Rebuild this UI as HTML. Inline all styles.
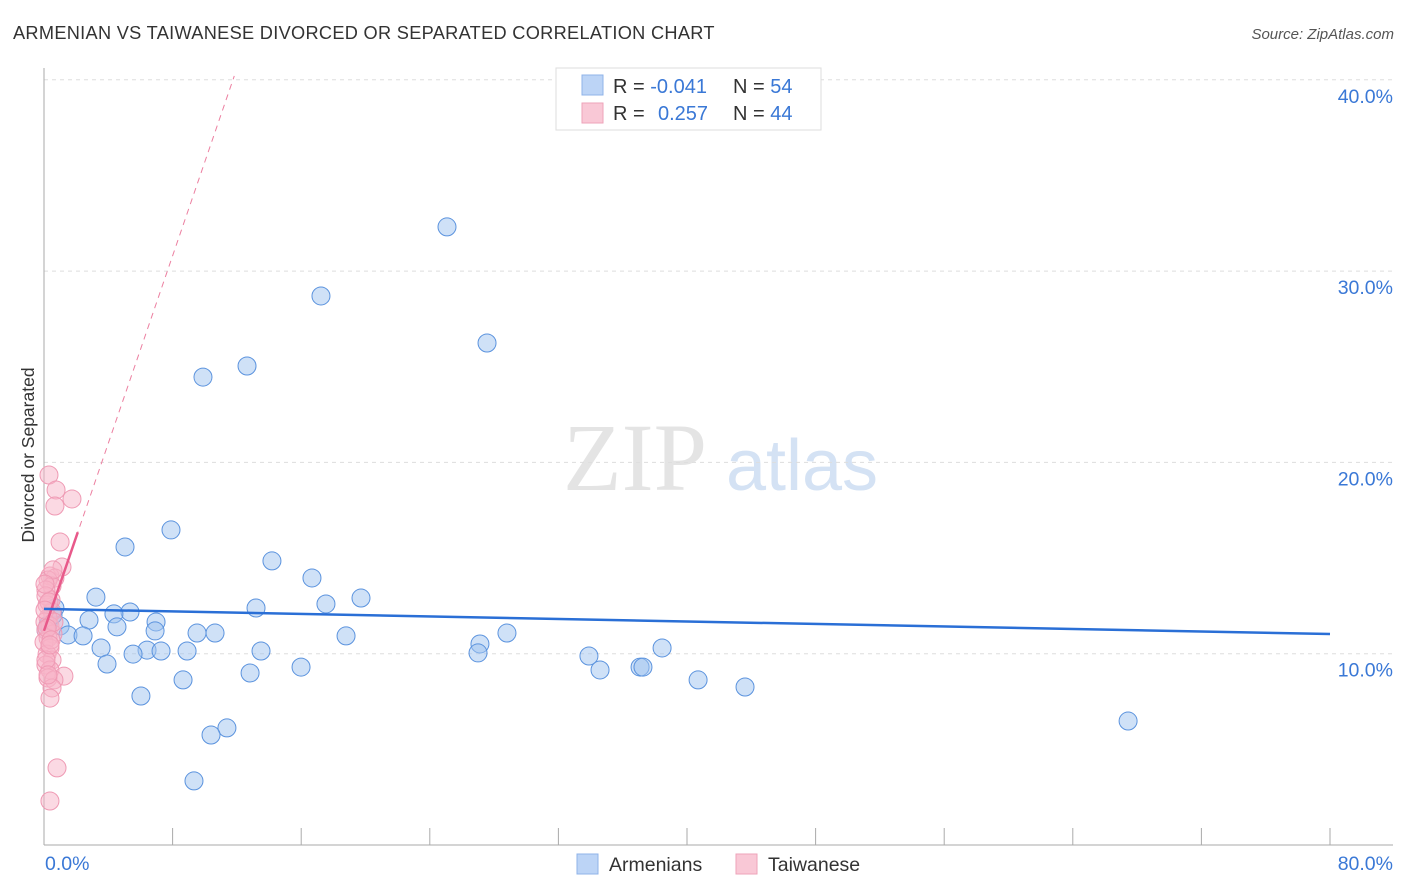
<!DOCTYPE html>
<html><head><meta charset="utf-8"><style>
body{margin:0;background:#fff;font-family:"Liberation Sans",sans-serif;}
svg{display:block}
</style></head><body>
<svg id="chart" width="1406" height="892" xmlns="http://www.w3.org/2000/svg">
<text x="13" y="39" font-size="18.2" letter-spacing="0.3" fill="#333">ARMENIAN VS TAIWANESE DIVORCED OR SEPARATED CORRELATION CHART</text>
<text x="1394" y="39" font-size="15" fill="#555" font-style="italic" text-anchor="end">Source: ZipAtlas.com</text>
<g>
<text x="635" y="490" font-size="96" fill="#e4e4e4" font-family="Liberation Serif,serif" text-anchor="middle">ZIP</text>
<text x="802" y="490" font-size="72" fill="#d4e2f4" text-anchor="middle">atlas</text>
</g>
<g id="grid"></g>
<g id="axes"></g>
<text transform="translate(34,455) rotate(-90)" font-size="17.5" fill="#333" text-anchor="middle">Divorced or Separated</text>
<g id="marks"></g>
<g>
<rect x="556" y="68" width="265" height="62" fill="#fff" stroke="#ddd"/>
<rect x="582" y="75" width="21" height="20" fill="#bcd4f6" stroke="#8fb3e8"/>
<rect x="582" y="103" width="21" height="20" fill="#f9c8d6" stroke="#eea3b9"/>
<text x="613" y="93" font-size="20" fill="#333">R = <tspan fill="#3a78d6">-0.041</tspan></text>
<text x="733" y="93" font-size="20" fill="#333">N = <tspan fill="#3a78d6">54</tspan></text>
<text x="613" y="120" font-size="20" fill="#333">R = <tspan fill="#3a78d6" x="658">0.257</tspan></text>
<text x="733" y="120" font-size="20" fill="#333">N = <tspan fill="#3a78d6">44</tspan></text>
</g>
<g>
<rect x="577" y="854" width="21" height="20" fill="#bcd4f6" stroke="#8fb3e8"/>
<text x="609" y="871" font-size="19.5" fill="#333">Armenians</text>
<rect x="736" y="854" width="21" height="20" fill="#f9c8d6" stroke="#eea3b9"/>
<text x="768" y="871" font-size="19.5" fill="#333">Taiwanese</text>
</g>
</svg>
<script>
const NS="http://www.w3.org/2000/svg";
const yTicks=[10,20,30,40];
const yTickLabels=["10.0%","20.0%","30.0%","40.0%"];
const xTicks=[0,8,16,24,32,40,48,56,64,72,80];
const xEndLabels=["0.0%","80.0%"];
const armX=[25.07,17.23,27.56,9.89,12.63,7.90,5.04,14.18,16.67,19.72,3.23,17.54,13.19,5.35,4.35,2.80,6.97,0.68,1.00,4.54,6.91,9.52,10.64,1.49,2.43,18.79,28.80,27.12,3.55,6.41,7.28,8.90,5.54,13.50,38.45,27.00,33.90,3.92,15.99,34.59,37.08,37.26,12.82,8.65,40.69,43.61,6.03,11.38,10.39,67.44,9.33,0.25,0.56,0.12];
const armY=[32.31,28.70,26.24,24.46,25.04,16.47,15.58,14.85,13.96,12.91,12.96,12.60,12.39,12.18,12.08,11.76,11.66,12.39,11.45,11.40,11.19,11.08,11.08,10.98,10.93,10.93,11.08,10.51,10.30,10.19,10.14,10.14,9.98,10.14,10.30,10.04,9.88,9.46,9.30,9.15,9.30,9.30,8.99,8.63,8.63,8.26,7.79,6.12,5.75,6.48,3.35,11.50,12.02,11.24];
const taiX=[0.31,0.75,1.74,0.68,1.00,1.12,0.37,0.68,0.25,0.50,0.12,0.44,0.19,0.50,0.25,0.06,0.37,0.12,0.56,0.25,0,0.37,0.19,0.50,0.12,0.37,1.24,0.25,0.62,0.50,0.37,0.81,0.37,0.12,0.31,0.06,0.62,0.19,0.44,0.12,0.25,0.56,0.06,0.37];
const taiY=[19.34,18.56,18.09,17.72,15.84,14.53,14.06,13.96,13.85,13.54,13.33,12.81,12.55,12.18,11.87,11.66,11.45,11.24,11.03,10.82,10.61,10.30,9.98,9.67,9.41,9.15,8.83,8.73,8.63,8.21,7.68,4.03,2.30,13.02,12.70,12.28,11.66,11.34,10.72,9.67,8.89,14.38,13.64,10.46];
const armTrend=[12.34,11.03]; // y at x=0 and x=80
const taiTrend=[11.2,2.45]; // intercept, slope
const X=v=>44+v/80*1286;
const Y=v=>845-v*19.13;
function mk(tag,attrs,parent){const e=document.createElementNS(NS,tag);for(const k in attrs)e.setAttribute(k,attrs[k]);parent.appendChild(e);return e;}
const grid=document.getElementById('grid'),axes=document.getElementById('axes'),marks=document.getElementById('marks');
yTicks.forEach((t,i)=>{
 const l=mk('line',{x1:44,x2:1393,y1:Y(t),y2:Y(t),stroke:'#ddd','stroke-dasharray':'4,4'},grid);
 
 
 const tx=mk('text',{x:1393,y:Y(t)+23,'font-size':19.5,fill:'#3a78d6','text-anchor':'end'},axes);
 tx.textContent=yTickLabels[i];
 
 
});
const ax=mk('line',{x1:44,x2:44,y1:68,y2:845,stroke:'#aaa'},axes);


const bx=mk('line',{x1:44,x2:1393,y1:845,y2:845,stroke:'#aaa'},axes);


xTicks.forEach(t=>{
 const l=mk('line',{x1:X(t),x2:X(t),y1:828,y2:845,stroke:'#aaa'},axes);
 
 
});
const xl0=mk('text',{x:45,y:870,'font-size':19.5,fill:'#3a78d6'},axes);xl0.textContent=xEndLabels[0];


const xl1=mk('text',{x:1393,y:870,'font-size':19.5,fill:'#3a78d6','text-anchor':'end'},axes);xl1.textContent=xEndLabels[1];


armX.forEach((v,i)=>{
 const c=mk('circle',{cx:X(v),cy:Y(armY[i]),r:9,fill:'rgba(160,196,240,0.5)',stroke:'#5b93de','stroke-width':1},marks);
 
 
});
taiX.forEach((v,i)=>{
 const c=mk('circle',{cx:X(v),cy:Y(taiY[i]),r:9,fill:'rgba(248,180,200,0.5)',stroke:'#ef9ab4','stroke-width':1},marks);
 
 
});
const tEnd=(40.2-taiTrend[0])/taiTrend[1];
const td=mk('line',{x1:X(0),y1:Y(taiTrend[0]),x2:X(tEnd),y2:Y(40.2),stroke:'#ec7fa0','stroke-width':1,'stroke-dasharray':'6,5'},marks);


const ts=mk('line',{x1:X(0),y1:Y(taiTrend[0]),x2:X(2.1),y2:Y(taiTrend[0]+taiTrend[1]*2.1),stroke:'#e8598a','stroke-width':2.5},marks);


const at=mk('line',{x1:X(0),y1:Y(armTrend[0]),x2:X(80),y2:Y(armTrend[1]),stroke:'#2a6fd6','stroke-width':2.5},marks);


</script>
</body></html>
